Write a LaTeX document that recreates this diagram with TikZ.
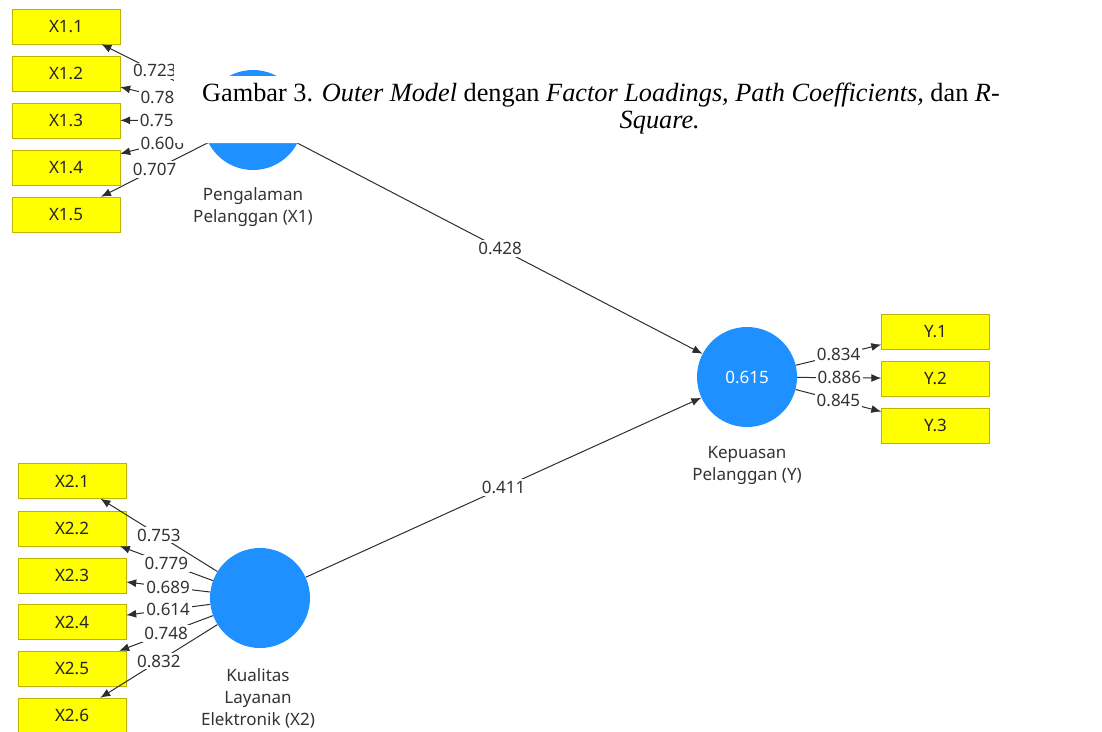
\documentclass[tikz,border=0pt]{standalone}
\usepackage{fontspec}
\setmainfont{Noto Sans}
\newfontfamily\capfont{Liberation Serif}
\usetikzlibrary{arrows.meta}
\definecolor{lvblue}{RGB}{30,144,255}
\definecolor{mvyellow}{RGB}{255,255,0}
\definecolor{mvedge}{RGB}{190,180,0}
\definecolor{wire}{RGB}{45,45,45}

\begin{document}
\begin{tikzpicture}[x=1pt,y=-1pt,
  indicator/.style={draw=mvedge, fill=mvyellow, minimum width=108pt, minimum height=35pt,
    inner sep=0pt, font=\fontsize{17}{20}\selectfont, text=black!85},
  latent/.style={circle, fill=lvblue, minimum size=100pt, inner sep=0pt,
    font=\fontsize{17}{20}\selectfont, text=white},
  latentname/.style={align=center, font=\fontsize{17}{22}\selectfont, text=black!80},
  link/.style={draw=wire, line width=1pt, -{Latex[length=10pt,width=8pt]}},
  coef/.style={fill=white, inner sep=2pt, pos=0.5, font=\fontsize{17}{20}\selectfont, text=black!80},
]
\path[use as bounding box] (0,0) rectangle (1102,731);

% latent variables
\node[latent] (X1) at (253,120) {};
\node[latent] (X2) at (260,598) {};
\node[latent] (Y)  at (747,377) {0.615};

\node[latentname] (X1name) at (253,207) {Pengalaman\\Pelanggan (X1)};
\node[latentname] (X2name) at (258,698) {Kualitas\\Layanan\\Elektronik (X2)};
\node[latentname] (Yname)  at (747,465) {Kepuasan\\Pelanggan (Y)};

% indicators
\node[indicator] (X11) at (66,26.5)  {X1.1};
\node[indicator] (X12) at (66,73.5)  {X1.2};
\node[indicator] (X13) at (66,120.5) {X1.3};
\node[indicator] (X14) at (66,167.5) {X1.4};
\node[indicator] (X15) at (66,214.5) {X1.5};

\node[indicator] (X21) at (72,481)   {X2.1};
\node[indicator] (X22) at (72,528.5) {X2.2};
\node[indicator] (X23) at (72,575.5) {X2.3};
\node[indicator] (X24) at (72,622)   {X2.4};
\node[indicator] (X25) at (72,668.5) {X2.5};
\node[indicator] (X26) at (72,715.5) {X2.6};

\node[indicator] (Y1) at (935.5,331.5) {Y.1};
\node[indicator] (Y2) at (935.5,378.5) {Y.2};
\node[indicator] (Y3) at (935.5,425.5) {Y.3};

% outer loadings
\draw[link] (X1) -- node[coef] (l11) {0.723} (X11);
\draw[link] (X1) -- node[coef] (l12) {0.784} (X12);
\draw[link] (X1) -- node[coef] (l13) {0.751} (X13);
\draw[link] (X1) -- node[coef] (l14) {0.606} (X14);
\draw[link] (X1) -- node[coef] (l15) {0.707} (X15);

\draw[link] (X2) -- node[coef] (l21) {0.753} (X21);
\draw[link] (X2) -- node[coef] (l22) {0.779} (X22);
\draw[link] (X2) -- node[coef] (l23) {0.689} (X23);
\draw[link] (X2) -- node[coef] (l24) {0.614} (X24);
\draw[link] (X2) -- node[coef] (l25) {0.748} (X25);
\draw[link] (X2) -- node[coef] (l26) {0.832} (X26);

\draw[link] (Y) -- node[coef] (ly1) {0.834} (Y1);
\draw[link] (Y) -- node[coef] (ly2) {0.886} (Y2);
\draw[link] (Y) -- node[coef] (ly3) {0.845} (Y3);

% path coefficients
\draw[link] (X1) -- node[coef] (p1) {0.428} (Y);
\draw[link] (X2) -- node[coef] (p2) {0.411} (Y);

% caption on its white backing
\fill[white] (174,55) -- (215,55) -- (215,76) -- (1012,76) -- (1012,143) -- (174,143) -- cycle;
\node[anchor=base west, inner sep=0pt, font=\capfont\fontsize{26.3}{30}\selectfont] (cap1) at (202,101)
  {Gambar 3. \textit{Outer Model} dengan \textit{Factor Loadings, Path Coefficients,} dan \textit{R-}};
\node[anchor=base east, inner sep=0pt, font=\capfont\fontsize{26.3}{30}\selectfont] (cap2) at (700,128)
  {\textit{Square.}};
\end{tikzpicture}
\end{document}
